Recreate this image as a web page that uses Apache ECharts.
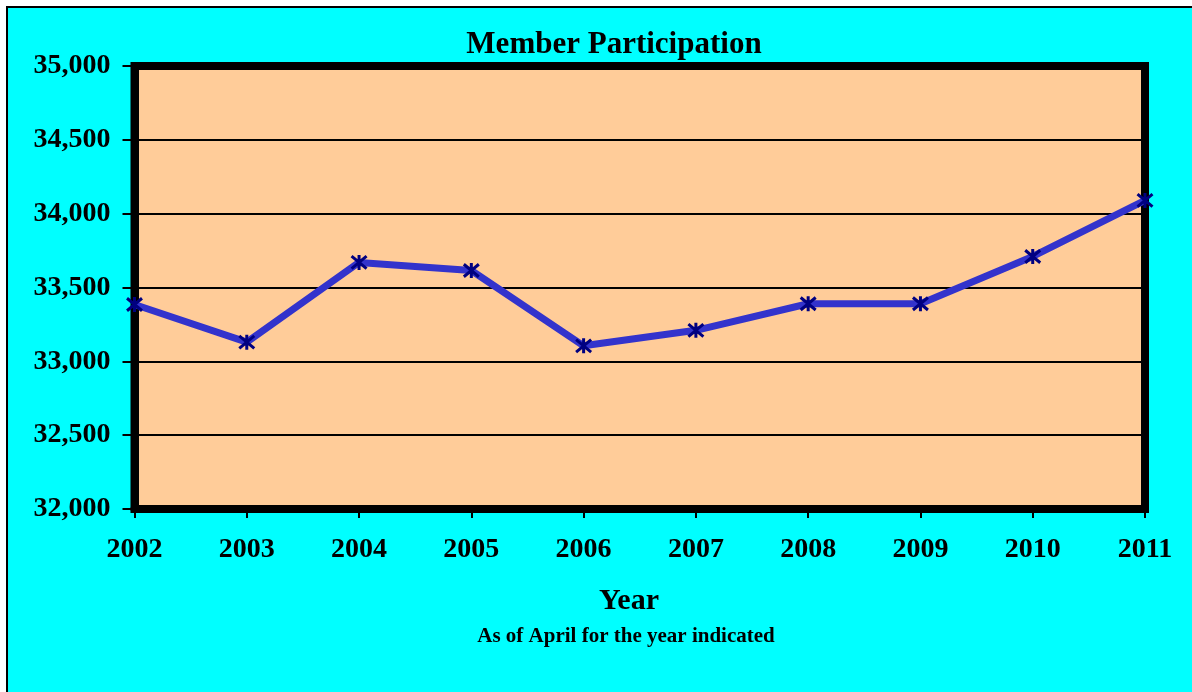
<!DOCTYPE html>
<html>
<head>
<meta charset="utf-8">
<script src="https://cdn.jsdelivr.net/npm/echarts@6/dist/echarts.min.js"></script>
<style>
html,body{margin:0;padding:0;background:#fff;}
#chart{width:1192px;height:692px;}
</style>
</head>
<body>
<div id="chart"></div>
<script>
const years = ['2002','2003','2004','2005','2006','2007','2008','2009','2010','2011'];
const members = [33385, 33130, 33670, 33615, 33105, 33210, 33390, 33390, 33710, 34090];
const yTicks = { min: 32000, max: 35000, interval: 500 };
const titleText = 'Member Participation';
const xName = 'Year';
const xSubName = 'As of April for the year indicated';

const FONT = '"Liberation Serif", "Times New Roman", serif';
const chart = echarts.init(document.getElementById('chart'), null, {renderer: 'canvas'});
chart.setOption({
  animation: false,
  backgroundColor: '#ffffff',
  graphic: [
    { type: 'rect', z: -10, shape: { x: 7, y: 7, width: 1200, height: 700 },
      style: { fill: '#00FFFF', stroke: '#000', lineWidth: 2 } },
    { type: 'text', z: 10, x: 629, y: 601,
      style: { text: xName, font: 'bold 30px ' + FONT, fill: '#000', textAlign: 'center', textVerticalAlign: 'middle' } },
    { type: 'text', z: 10, x: 626, y: 637,
      style: { text: xSubName, font: 'bold 21px ' + FONT, fill: '#000', textAlign: 'center', textVerticalAlign: 'middle' } }
  ],
  title: {
    text: titleText,
    left: 609, top: 24,
    textAlign: 'center',
    textStyle: { fontFamily: FONT, fontWeight: 'bold', fontSize: 31, color: '#000' }
  },
  grid: {
    left: 134.5, top: 66, width: 1010.5, height: 443,
    show: true, backgroundColor: '#FFCC99', borderColor: '#000', borderWidth: 8,
    containLabel: false
  },
  xAxis: {
    type: 'category',
    data: years,
    boundaryGap: false,
    axisLine: { show: true, lineStyle: { color: '#000', width: 8 } },
    axisTick: { show: true, length: 9, lineStyle: { color: '#000', width: 2 } },
    axisLabel: { color: '#000', fontFamily: FONT, fontWeight: 'bold', fontSize: 28, margin: 27 },
    splitLine: { show: false }
  },
  yAxis: {
    type: 'value',
    min: yTicks.min, max: yTicks.max, interval: yTicks.interval,
    axisLine: { show: true, lineStyle: { color: '#000', width: 8 } },
    axisTick: { show: true, length: 12, lineStyle: { color: '#000', width: 2 } },
    axisLabel: {
      color: '#000', fontFamily: FONT, fontWeight: 'bold', fontSize: 28, margin: 24,
      formatter: v => v.toLocaleString('en-US')
    },
    splitLine: { show: true, lineStyle: { color: '#000', width: 2 } }
  },
  series: [{
    type: 'line',
    data: members,
    lineStyle: { color: '#3333CC', width: 7 },
    symbol: 'path://M0,0 L10,10 M10,0 L0,10 M5,-1 L5,11',
    symbolSize: 15,
    itemStyle: { color: 'rgba(0,0,0,0)', borderColor: '#000080', borderWidth: 3 },
    z: 5
  }]
});
</script>
</body>
</html>
